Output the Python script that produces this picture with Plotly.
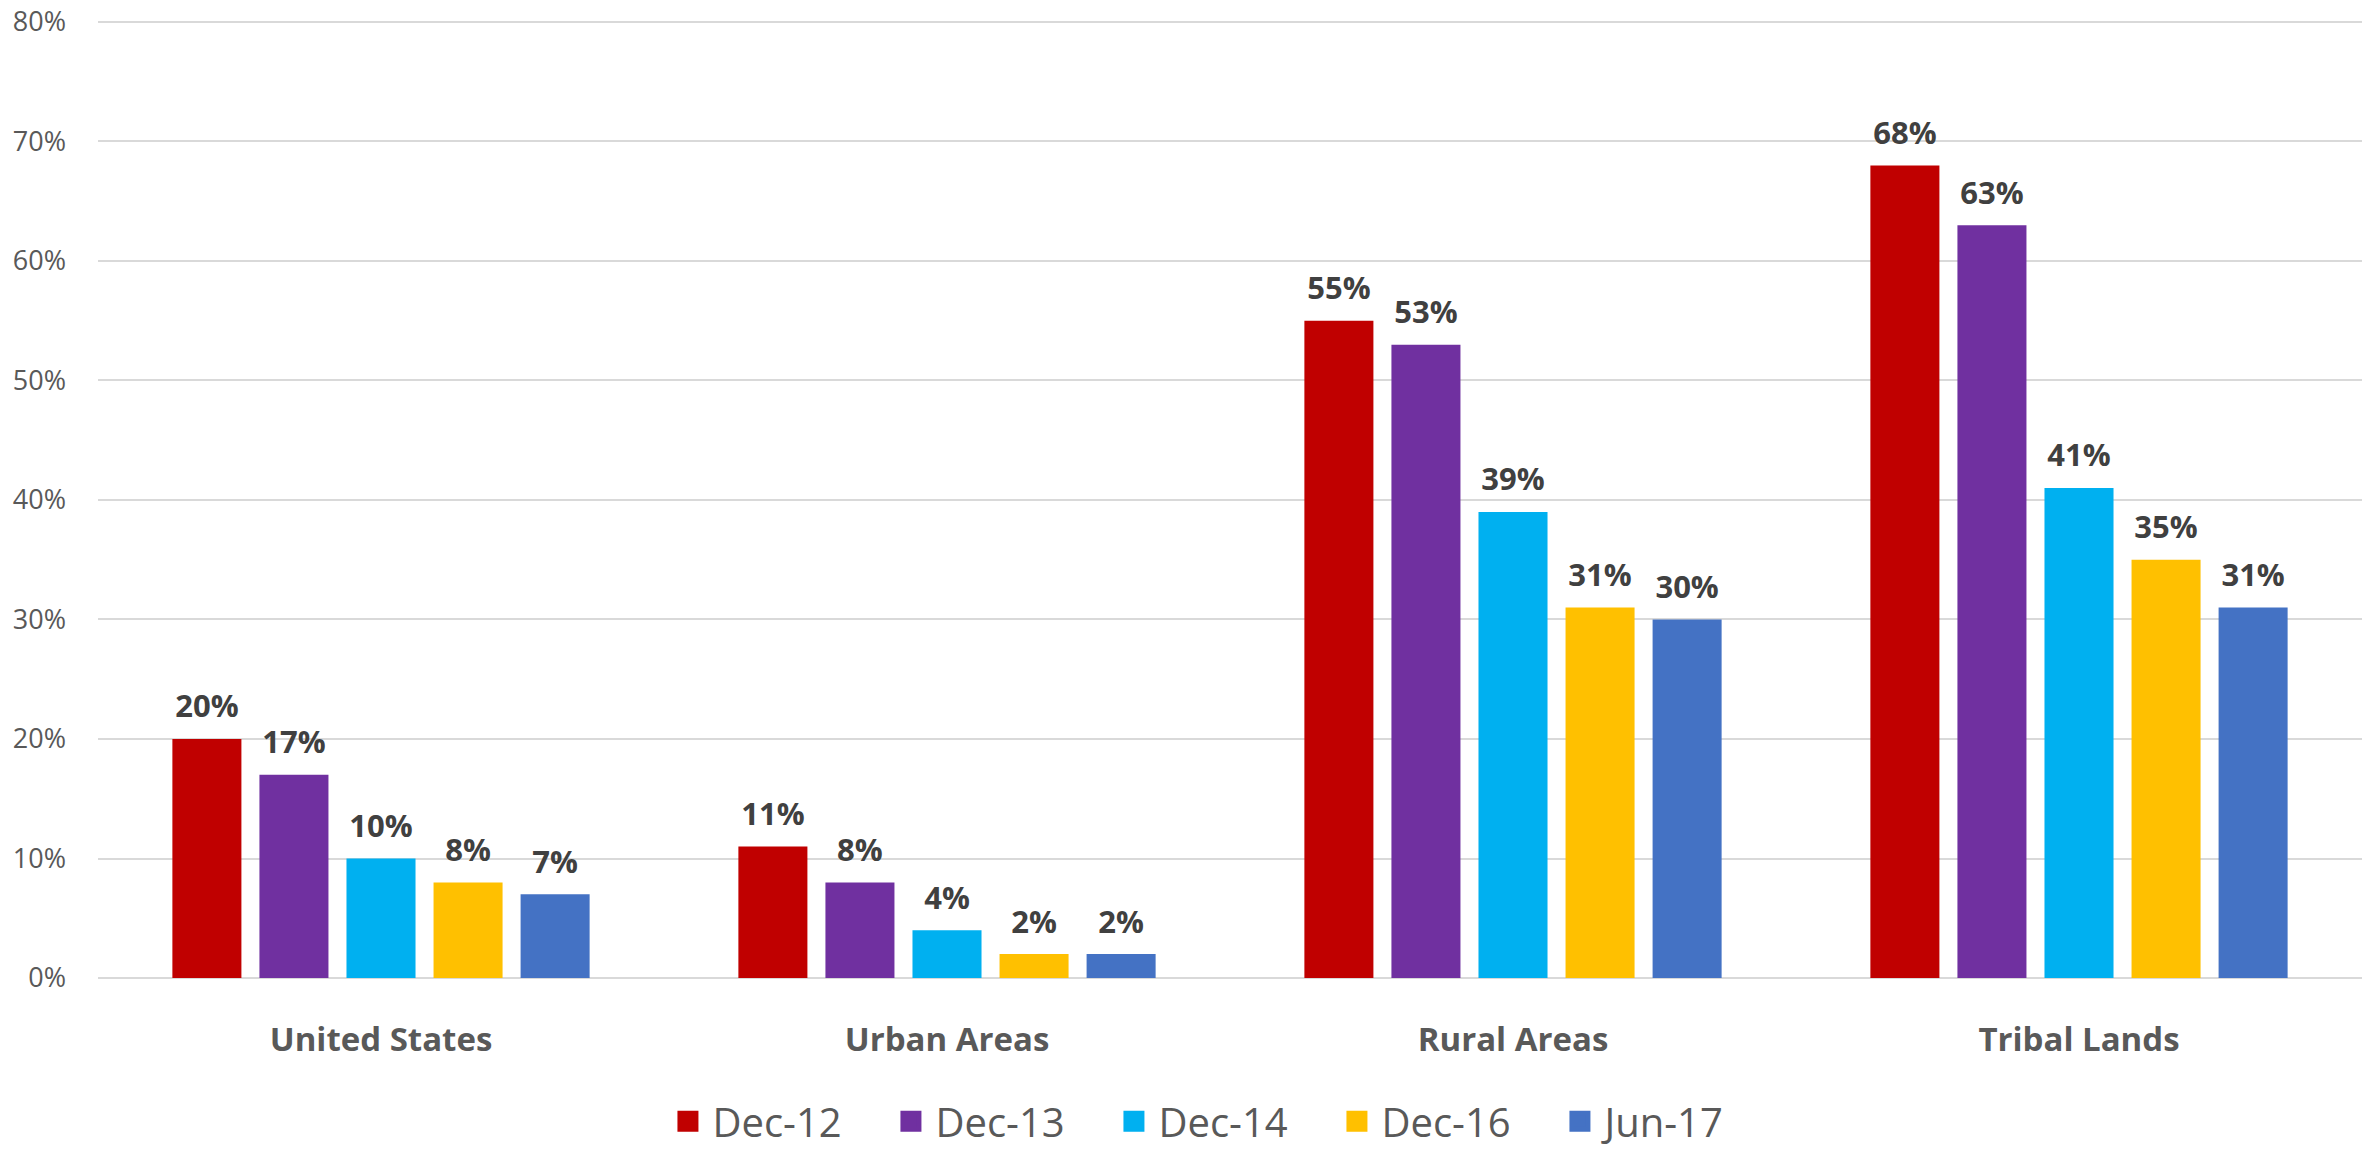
import plotly.graph_objects as go

categories = ["United States", "Urban Areas", "Rural Areas", "Tribal Lands"]
series_names = ["Dec-12", "Dec-13", "Dec-14", "Dec-16", "Jun-17"]
dec12 = [0.20, 0.11, 0.55, 0.68]
dec13 = [0.17, 0.08, 0.53, 0.63]
dec14 = [0.10, 0.04, 0.39, 0.41]
dec16 = [0.08, 0.02, 0.31, 0.35]
jun17 = [0.07, 0.02, 0.30, 0.31]
series_values = [dec12, dec13, dec14, dec16, jun17]
colors = ["#C00000", "#7030A0", "#00B0F0", "#FFC000", "#4472C4"]
y_tickvals = [0, 0.1, 0.2, 0.3, 0.4, 0.5, 0.6, 0.7, 0.8]
y_ticktext = ["0%", "10%", "20%", "30%", "40%", "50%", "60%", "70%", "80%"]

FONT = "Open Sans"

fig = go.Figure()
for name, vals, col in zip(series_names, series_values, colors):
    fig.add_trace(go.Bar(
        x=categories, y=vals, name=name, showlegend=False,
        marker=dict(color=col, line=dict(width=0)),
        text=[f"{v:.0%}" for v in vals],
        texttemplate="<span style='font-size:31px'>%{text}</span><br><span style='font-size:10px'>&nbsp;</span>",
        textposition="outside",
        textfont=dict(family=FONT, size=12, color="#404040", weight="bold"),
        cliponaxis=False,
    ))
# legend entries
for name, col in zip(series_names, colors):
    fig.add_trace(go.Scatter(
        x=[categories[0]], y=[None], name=name, mode="markers",
        marker=dict(symbol="square", size=22, color=col, line=dict(color=col, width=5)),
        showlegend=True, hoverinfo="skip",
    ))

fig.update_layout(
    width=2371, height=1141,
    margin=dict(l=90, r=17, t=8, b=171, autoexpand=False),
    paper_bgcolor="white", plot_bgcolor="white",
    barmode="group", bargap=0.231, bargroupgap=0.207,
    font=dict(family=FONT, color="#595959"),
    legend=dict(
        orientation="h", x=0.496, xanchor="center",
        y=-0.149, yanchor="middle",
        font=dict(family=FONT, size=40, color="#595959"),
        itemwidth=39, entrywidth=169,
    ),
    xaxis=dict(
        showgrid=False, showline=False, ticks="", automargin=False,
        tickfont=dict(family=FONT, size=33, color="#595959", weight="bold"),
        ticklabelstandoff=39,
    ),
    yaxis=dict(
        range=[0, 0.805], tickvals=y_tickvals, ticktext=y_ticktext,
        showgrid=True, gridcolor="#D9D9D9", gridwidth=2,
        zeroline=True, zerolinecolor="#D9D9D9", zerolinewidth=2,
        showline=False, ticks="", automargin=False,
        tickfont=dict(family=FONT, size=27, color="#595959"),
        ticklabelstandoff=31, ticklabeloverflow="allow",
    ),
)

fig.write_html("out.html")
